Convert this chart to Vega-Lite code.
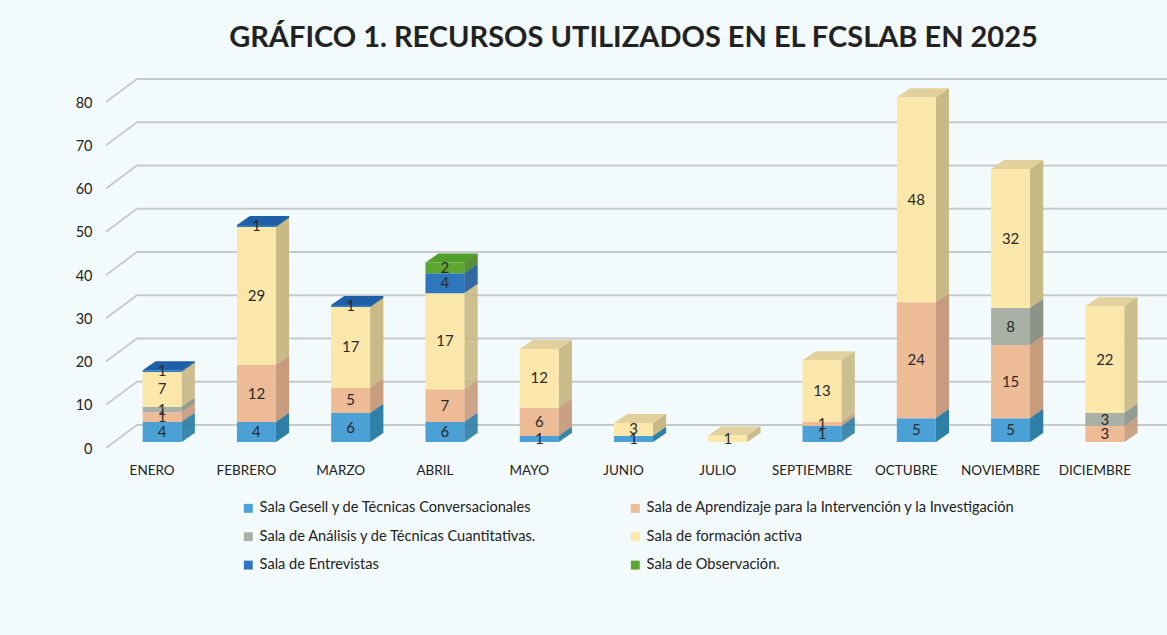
{"$schema":"https://vega.github.io/schema/vega-lite/v6.json","width":1037,"height":346,"autosize":{"type":"none"},"padding":{"left":115,"top":96,"right":15,"bottom":193},"background":"#f3fafc",
"title":{"text":"GRÁFICO 1. RECURSOS UTILIZADOS EN EL FCSLAB EN 2025","font":"Lato","fontSize":29,"fontWeight":"bold","color":"#222222","anchor":"middle","offset":22},
"config":{"view":{"stroke":null},"font":"Lato","axisX":{"title":null,"domain":false,"ticks":false,"grid":false,"labelAngle":0,"labelFont":"Lato","labelFontSize":13.5,"labelColor":"#222222","labelPadding":21,"labelOffset":-10,"labelLimit":200},"axisY":{"title":null,"domain":false,"ticks":false,"grid":false,"labelFont":"Lato","labelFontSize":14.5,"labelColor":"#222222","labelPadding":23,"labelOffset":7}},
"data":{"values":[
{"mes":"ENERO","serie":"Sala Gesell y de Técnicas Conversacionales","orden":1,"valor":4.6,"etiqueta":"4"},
{"mes":"ENERO","serie":"Sala de Aprendizaje para la Intervención y la Investigación","orden":2,"valor":2.3,"etiqueta":"1"},
{"mes":"ENERO","serie":"Sala de Análisis y de Técnicas Cuantitativas.","orden":3,"valor":1.2,"etiqueta":"1"},
{"mes":"ENERO","serie":"Sala de formación activa","orden":4,"valor":8.1,"etiqueta":"7"},
{"mes":"ENERO","serie":"Sala de Entrevistas","orden":5,"valor":0.4,"etiqueta":"1"},
{"mes":"FEBRERO","serie":"Sala Gesell y de Técnicas Conversacionales","orden":1,"valor":4.6,"etiqueta":"4"},
{"mes":"FEBRERO","serie":"Sala de Aprendizaje para la Intervención y la Investigación","orden":2,"valor":13.2,"etiqueta":"12"},
{"mes":"FEBRERO","serie":"Sala de formación activa","orden":4,"valor":31.9,"etiqueta":"29"},
{"mes":"FEBRERO","serie":"Sala de Entrevistas","orden":5,"valor":0.5,"etiqueta":"1"},
{"mes":"MARZO","serie":"Sala Gesell y de Técnicas Conversacionales","orden":1,"valor":6.7,"etiqueta":"6"},
{"mes":"MARZO","serie":"Sala de Aprendizaje para la Intervención y la Investigación","orden":2,"valor":5.8,"etiqueta":"5"},
{"mes":"MARZO","serie":"Sala de formación activa","orden":4,"valor":18.7,"etiqueta":"17"},
{"mes":"MARZO","serie":"Sala de Entrevistas","orden":5,"valor":0.5,"etiqueta":"1"},
{"mes":"ABRIL","serie":"Sala Gesell y de Técnicas Conversacionales","orden":1,"valor":4.6,"etiqueta":"6"},
{"mes":"ABRIL","serie":"Sala de Aprendizaje para la Intervención y la Investigación","orden":2,"valor":7.6,"etiqueta":"7"},
{"mes":"ABRIL","serie":"Sala de formación activa","orden":4,"valor":22.2,"etiqueta":"17"},
{"mes":"ABRIL","serie":"Sala de Entrevistas","orden":5,"valor":4.6,"etiqueta":"4"},
{"mes":"ABRIL","serie":"Sala de Observación.","orden":6,"valor":2.5,"etiqueta":"2"},
{"mes":"MAYO","serie":"Sala Gesell y de Técnicas Conversacionales","orden":1,"valor":1.4,"etiqueta":"1"},
{"mes":"MAYO","serie":"Sala de Aprendizaje para la Intervención y la Investigación","orden":2,"valor":6.5,"etiqueta":"6"},
{"mes":"MAYO","serie":"Sala de formación activa","orden":4,"valor":13.6,"etiqueta":"12"},
{"mes":"JUNIO","serie":"Sala Gesell y de Técnicas Conversacionales","orden":1,"valor":1.4,"etiqueta":"1"},
{"mes":"JUNIO","serie":"Sala de formación activa","orden":4,"valor":3.0,"etiqueta":"3"},
{"mes":"JULIO","serie":"Sala de formación activa","orden":4,"valor":1.5,"etiqueta":"1"},
{"mes":"SEPTIEMBRE","serie":"Sala Gesell y de Técnicas Conversacionales","orden":1,"valor":3.7,"etiqueta":"1"},
{"mes":"SEPTIEMBRE","serie":"Sala de Aprendizaje para la Intervención y la Investigación","orden":2,"valor":0.9,"etiqueta":"1"},
{"mes":"SEPTIEMBRE","serie":"Sala de formación activa","orden":4,"valor":14.3,"etiqueta":"13"},
{"mes":"OCTUBRE","serie":"Sala Gesell y de Técnicas Conversacionales","orden":1,"valor":5.5,"etiqueta":"5"},
{"mes":"OCTUBRE","serie":"Sala de Aprendizaje para la Intervención y la Investigación","orden":2,"valor":26.8,"etiqueta":"24"},
{"mes":"OCTUBRE","serie":"Sala de formación activa","orden":4,"valor":47.4,"etiqueta":"48"},
{"mes":"NOVIEMBRE","serie":"Sala Gesell y de Técnicas Conversacionales","orden":1,"valor":5.5,"etiqueta":"5"},
{"mes":"NOVIEMBRE","serie":"Sala de Aprendizaje para la Intervención y la Investigación","orden":2,"valor":16.9,"etiqueta":"15"},
{"mes":"NOVIEMBRE","serie":"Sala de Análisis y de Técnicas Cuantitativas.","orden":3,"valor":8.6,"etiqueta":"8"},
{"mes":"NOVIEMBRE","serie":"Sala de formación activa","orden":4,"valor":32.1,"etiqueta":"32"},
{"mes":"DICIEMBRE","serie":"Sala de Aprendizaje para la Intervención y la Investigación","orden":2,"valor":3.7,"etiqueta":"3"},
{"mes":"DICIEMBRE","serie":"Sala de Análisis y de Técnicas Cuantitativas.","orden":3,"valor":3.0,"etiqueta":"3"},
{"mes":"DICIEMBRE","serie":"Sala de formación activa","orden":4,"valor":24.7,"etiqueta":"22"}
]},
"transform":[
{"stack":"valor","groupby":["mes"],"sort":[{"field":"orden","order":"ascending"}],"as":["y0","y1"]},
{"calculate":"(datum.y0+datum.y1)/2","as":"medio"},
{"joinaggregate":[{"op":"max","field":"y1","as":"tope"}],"groupby":["mes"]}
],
"layer":[
{"data":{"values":[{"t":0},{"t":10},{"t":20},{"t":30},{"t":40},{"t":50},{"t":60},{"t":70},{"t":80}]},"mark":{"type":"point","shape":"M-9,6L22,-17L1052,-17","size":4,"filled":false,"opacity":1,"stroke":"#c6cbc9","strokeWidth":1.8},"encoding":{"x":{"datum":"ENERO","bandPosition":0,"title":null,"scale":{"type":"band","paddingInner":0,"paddingOuter":0,"domain":["ENERO","FEBRERO","MARZO","ABRIL","MAYO","JUNIO","JULIO","SEPTIEMBRE","OCTUBRE","NOVIEMBRE","DICIEMBRE"]}},"y":{"field":"t","type":"quantitative","title":null,"scale":{"domain":[0,80]}}}},
{"encoding":{"x":{"field":"mes","type":"nominal","sort":null,"title":null},"y":{"field":"y0","type":"quantitative","title":null},"y2":{"field":"y1"},"stroke":{"field":"serie","type":"nominal","legend":null,"scale":{"domain":["Sala de Observación.","Sala de Entrevistas","Sala de formación activa","Sala de Análisis y de Técnicas Cuantitativas.","Sala de Aprendizaje para la Intervención y la Investigación","Sala Gesell y de Técnicas Conversacionales"],"range":["#4a8526","#1f5c98","#c9ba86","#8d9488","#c89c7e","#2f7fa6"]}}},
"layer":[
{"mark":{"type":"rule","strokeWidth":1.4,"xOffset":20,"yOffset":-0.4,"y2Offset":-0.4}},
{"mark":{"type":"rule","strokeWidth":1.4,"xOffset":21,"yOffset":-1.1,"y2Offset":-1.1}},
{"mark":{"type":"rule","strokeWidth":1.4,"xOffset":22,"yOffset":-1.8,"y2Offset":-1.8}},
{"mark":{"type":"rule","strokeWidth":1.4,"xOffset":23,"yOffset":-2.5,"y2Offset":-2.5}},
{"mark":{"type":"rule","strokeWidth":1.4,"xOffset":24,"yOffset":-3.2,"y2Offset":-3.2}},
{"mark":{"type":"rule","strokeWidth":1.4,"xOffset":25,"yOffset":-3.9,"y2Offset":-3.9}},
{"mark":{"type":"rule","strokeWidth":1.4,"xOffset":26,"yOffset":-4.6,"y2Offset":-4.6}},
{"mark":{"type":"rule","strokeWidth":1.4,"xOffset":27,"yOffset":-5.3,"y2Offset":-5.3}},
{"mark":{"type":"rule","strokeWidth":1.4,"xOffset":28,"yOffset":-6,"y2Offset":-6}},
{"mark":{"type":"rule","strokeWidth":1.4,"xOffset":29,"yOffset":-6.7,"y2Offset":-6.7}},
{"mark":{"type":"rule","strokeWidth":1.4,"xOffset":30,"yOffset":-7.4,"y2Offset":-7.4}},
{"mark":{"type":"rule","strokeWidth":1.4,"xOffset":31,"yOffset":-8.1,"y2Offset":-8.1}},
{"mark":{"type":"rule","strokeWidth":1.4,"xOffset":32,"yOffset":-8.8,"y2Offset":-8.8}}
]},
{"transform":[{"filter":"datum.y1 === datum.tope"}],"mark":{"type":"point","shape":"M-19.5,0L19.5,0L32.5,-9L-6.5,-9Z","size":4,"filled":true,"opacity":1},"encoding":{"x":{"field":"mes","type":"nominal","sort":null,"title":null},"y":{"field":"y1","type":"quantitative","title":null},"fill":{"field":"serie","type":"nominal","legend":null,"scale":{"domain":["Sala de formación activa","Sala de Entrevistas","Sala de Observación."],"range":["#e2d19d","#1f5fa8","#4f9f2a"]}}}},
{"mark":{"type":"bar","width":39},"encoding":{
"x":{"field":"mes","type":"nominal","sort":null,"title":null},
"y":{"field":"y0","type":"quantitative","title":null},
"y2":{"field":"y1"},
"color":{"field":"serie","type":"nominal","title":null,"scale":{"domain":["Sala Gesell y de Técnicas Conversacionales","Sala de Análisis y de Técnicas Cuantitativas.","Sala de Entrevistas","Sala de Aprendizaje para la Intervención y la Investigación","Sala de formación activa","Sala de Observación."],"range":["#4ba0d6","#a9b0a6","#2f77bd","#eebb97","#fce7ab","#5ea62f"]},
"legend":{"orient":"none","legendX":126,"legendY":405,"columns":2,"symbolType":"square","symbolSize":80,"labelFont":"Lato","labelFontSize":14.6,"labelColor":"#222222","labelLimit":500,"columnPadding":91,"rowPadding":13.4}}}},
{"mark":{"type":"text","font":"Lato","fontSize":15,"color":"#2a2a2a"},"encoding":{"x":{"field":"mes","type":"nominal","sort":null,"title":null},"y":{"field":"medio","type":"quantitative","title":null},"text":{"field":"etiqueta"}}}
]}
